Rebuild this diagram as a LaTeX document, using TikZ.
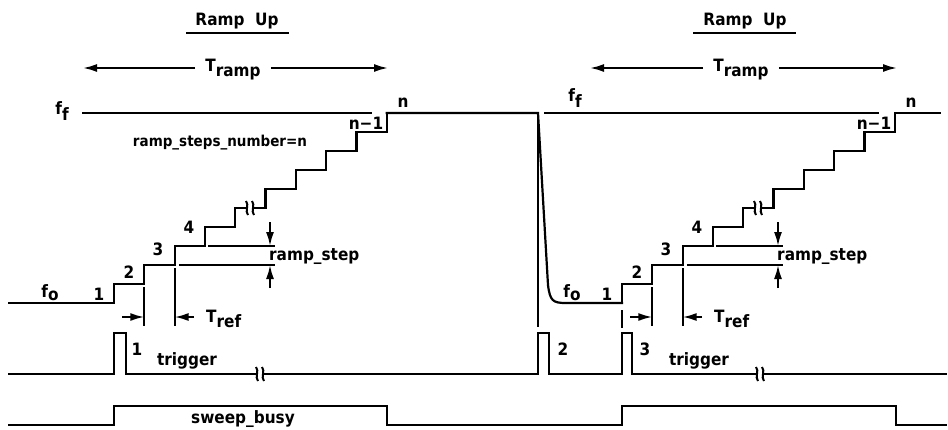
\documentclass[tikz,border=0pt]{standalone}
\usepackage{fontspec}
\setmainfont{DejaVu Sans}[FakeStretch=0.9]
\usepackage{tikz}
\usetikzlibrary{positioning,arrows.meta}

\begin{document}
\begin{tikzpicture}[x=1pt,y=-1pt,
		wave/.style={line width=2.2pt, line cap=rect},
		guide/.style={line width=2pt},
		dimarrow/.style={line width=2pt, -{Latex[length=14pt,width=8pt]}},
		lbl/.style={font=\fontsize{17}{20}\selectfont\bfseries, inner sep=0pt, anchor=base},
	]
	\useasboundingbox (0,0) rectangle (948,429);

	%Headings
	\node[lbl] (rampupL) at (237,25.5) {Ramp\ \ Up};
	\node[lbl] (rampupR) at (745,25.5) {Ramp\ \ Up};
	\draw[guide] (186,33) -- (289,33);
	\draw[guide] (693,33) -- (796,33);
	\node[lbl] (trampL) at (233,71) {T\raisebox{-5pt}{ramp}};
	\node[lbl] (trampR) at (741,71) {T\raisebox{-5pt}{ramp}};
	\coordinate (trampLa) at (83,68);
	\coordinate (trampLb) at (388,68);
	\coordinate (trampRa) at (590,68);
	\coordinate (trampRb) at (897,68);
	\draw[dimarrow] (trampL.west |- trampLa) ++(-10,0) -- (trampLa);
	\draw[dimarrow] (trampL.east |- trampLb) ++(10,0) -- (trampLb);
	\draw[dimarrow] (trampR.west |- trampRa) ++(-10,0) -- (trampRa);
	\draw[dimarrow] (trampR.east |- trampRb) ++(10,0) -- (trampRb);

	%Staircases
	\foreach \xo in {114,622}{
		\foreach \i in {0,...,9}
			\draw[wave] ({\xo+30.3*\i},{303-19*\i}) -- ({\xo+30.3*\i},{284-19*\i});
		\foreach \i in {0,1,2,3,5,6,7,8}
			\draw[wave] ({\xo+30.3*\i},{284-19*\i}) -- ({\xo+30.3*(\i+1)},{284-19*\i});
		\draw[wave] ({\xo+121.2},208) -- ({\xo+133},208);
		\draw[wave] ({\xo+139},208) -- ({\xo+151.5},208);
		% step numbers
		\node[lbl] (one\xo)   at (\xo-15,300) {1};
		\node[lbl] (two\xo)   at (\xo+15,278) {2};
		\node[lbl] (three\xo) at (\xo+44,255) {3};
		\node[lbl] (four\xo)  at (\xo+75,233) {4};
		\node[lbl] (nmin\xo)  at (\xo+252,129) {n−1};
		\node[lbl] (nn\xo)    at (\xo+289,107) {n};
		% T_ref
		\draw[guide] (\xo+30.3,287) -- (\xo+30.3,326);
		\draw[guide] (\xo+60.6,268) -- (\xo+60.6,326);
		\draw[dimarrow] (\xo+8,317) -- (\xo+30.3,317);
		\draw[dimarrow] (\xo+80,317) -- (\xo+60.6,317);
		\node[lbl, anchor=base west] (tref\xo) at (\xo+92,322) {T\raisebox{-5pt}{ref}};
		% ramp_step
		\draw[guide] (\xo+94,246) -- (\xo+161,246);
		\draw[guide] (\xo+65,265) -- (\xo+161,265);
		\draw[dimarrow] (\xo+156,222) -- (\xo+156,246);
		\draw[dimarrow] (\xo+156,288) -- (\xo+156,265);
		\node[lbl, anchor=base west] (rstep\xo) at (\xo+155,260) {ramp\_step};
	}

	%Break marks
	\foreach \bx/\by in {247/208, 253/208, 755/208, 761/208, 257/374, 263/374, 757/374, 763/374}
		\draw[guide] (\bx-1,\by-7) .. controls (\bx+2.5,\by-3) and (\bx-2.5,\by+3) .. (\bx+1,\by+7);

	%Levels
	\draw[wave] (9,303) -- (114,303);
	\draw[wave] (83,113) -- (371,113);
	\draw[wave] (545,113) -- (878,113);
	\draw[wave] (386.7,113) -- (538,113) -- (548,285) .. controls (550,301) and (553,303) .. (566,303) -- (622,303);
	\draw[wave] (894.7,113) -- (940,113);
	\draw[guide] (538,113) -- (538,327);
	\draw[guide] (622,310) -- (622,328);
	\node[lbl] (ffL) at (62,114) {f\raisebox{-6pt}{f}};
	\node[lbl] (ffR) at (575,101) {f\raisebox{-6pt}{f}};
	\node[lbl] (foL) at (50,297) {f\raisebox{-3pt}{o}};
	\node[lbl] (foR) at (572,297) {f\raisebox{-3pt}{o}};
	\node[lbl, font=\fontsize{15}{18}\selectfont\bfseries] (nsteps) at (220,146) {ramp\_steps\_number=n};

	%Trigger
	\draw[wave] (9,374) -- (114,374) -- (114,333) -- (126,333) -- (126,374) -- (257,374)
		(263,374) -- (538,374) -- (538,333) -- (549,333) -- (549,374) -- (622,374) -- (622,333) -- (632,333) -- (632,374) -- (757,374)
		(763,374) -- (946,374);
	\node[lbl] (trigA) at (137,355) {1};
	\node[lbl] (trigB) at (563,355) {2};
	\node[lbl] (trigC) at (645,355) {3};
	\node[lbl] (trigL) at (187,365) {trigger};
	\node[lbl] (trigR) at (699,365) {trigger};

	%Sweep busy
	\draw[wave] (9,425) -- (114,425) -- (114,406) -- (387,406) -- (387,425) -- (622,425) -- (622,406) -- (896,406) -- (896,425) -- (946,425);
	\node[lbl] (busy) at (243,423) {sweep\_busy};

\end{tikzpicture}
\end{document}
